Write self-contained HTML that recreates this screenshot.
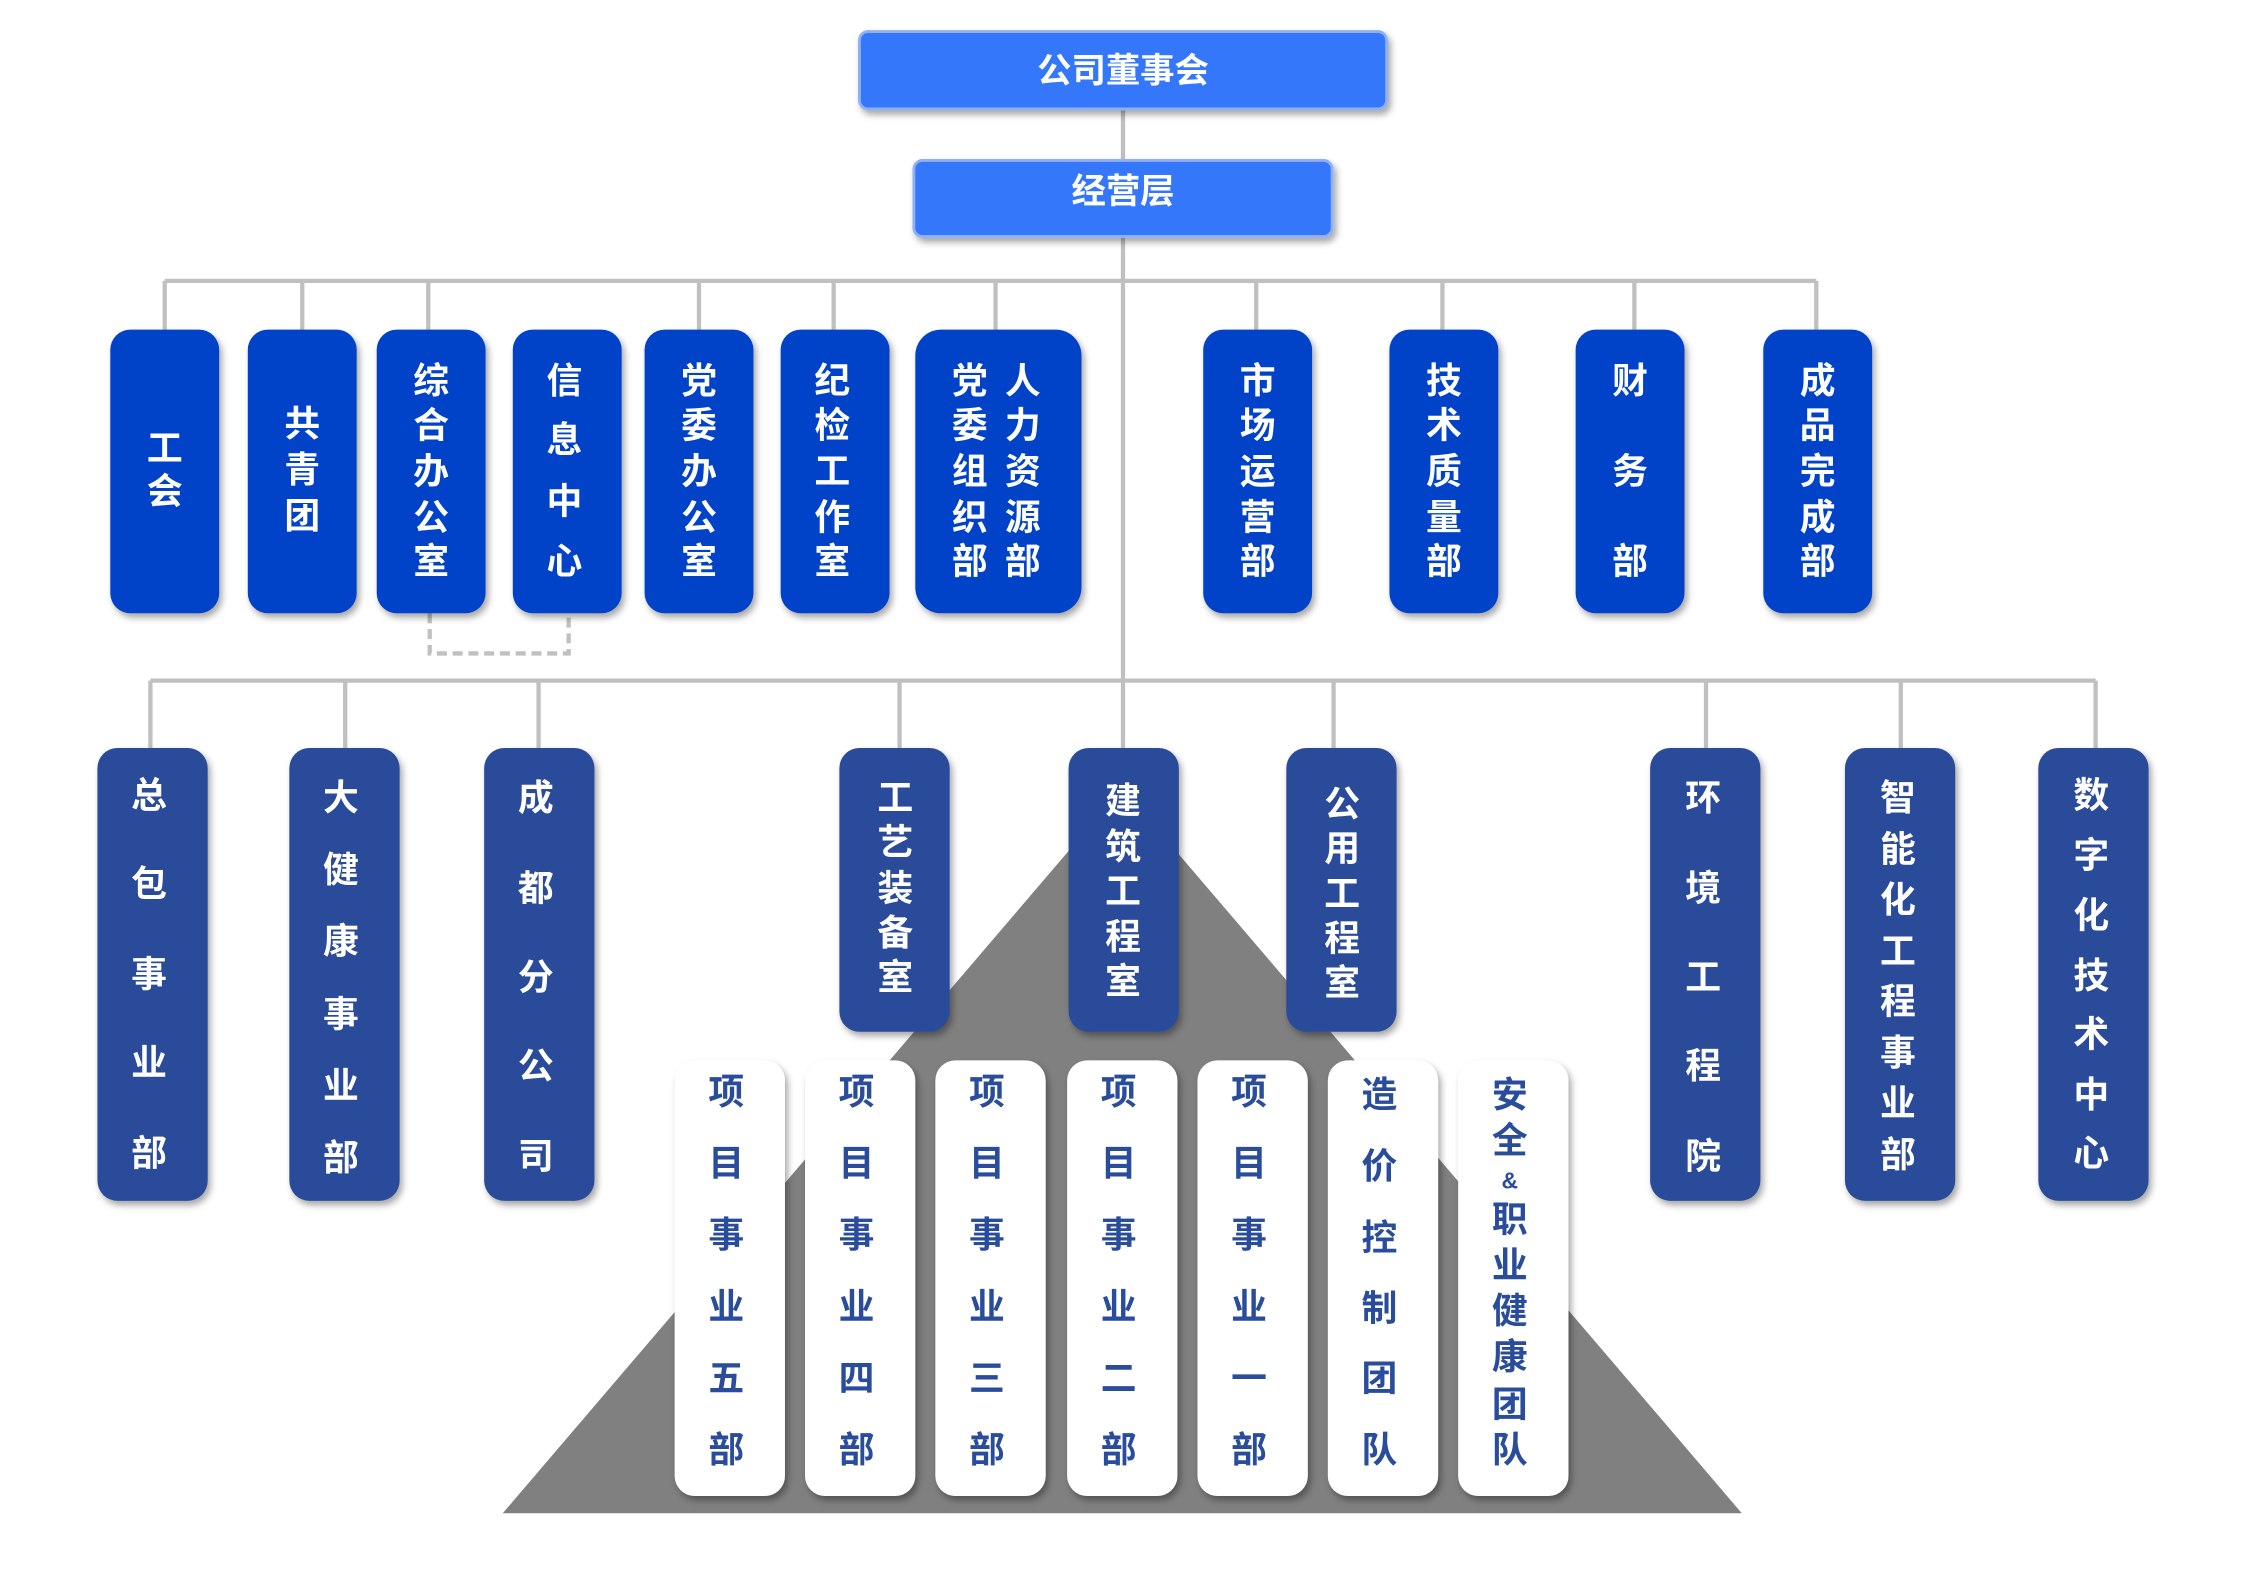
<!DOCTYPE html>
<html><head><meta charset="utf-8"><style>
html,body{margin:0;padding:0;background:#fff;}
svg{display:block;}
text{font-family:"Liberation Sans","Noto Sans CJK SC",sans-serif;font-weight:bold;text-anchor:middle;dominant-baseline:central;}
.w{fill:#fff;font-size:25px;}
.b{fill:#2a4d9b;font-size:25px;}
</style></head><body>
<svg width="2245" height="1588" viewBox="0 0 1567.3 1108.2" preserveAspectRatio="none" xmlns="http://www.w3.org/2000/svg">
<defs>
<filter id="sh" x="-20%" y="-20%" width="140%" height="140%"><feDropShadow dx="2" dy="3" stdDeviation="2.5" flood-color="#000" flood-opacity="0.35"/></filter>
</defs>
<polygon points="351,1056 783.5,550 1216,1056" fill="#808080"/>
<g stroke="#c0c0c0" stroke-width="3" fill="none">
<line x1="784" y1="76" x2="784" y2="522"/>
<line x1="115" y1="196" x2="1268" y2="196"/>
<line x1="115" y1="196" x2="115" y2="230"/><line x1="211" y1="196" x2="211" y2="230"/><line x1="299" y1="196" x2="299" y2="230"/><line x1="488" y1="196" x2="488" y2="230"/><line x1="582" y1="196" x2="582" y2="230"/><line x1="695" y1="196" x2="695" y2="230"/><line x1="877" y1="196" x2="877" y2="230"/><line x1="1007" y1="196" x2="1007" y2="230"/><line x1="1141" y1="196" x2="1141" y2="230"/><line x1="1268" y1="196" x2="1268" y2="230"/>
<line x1="105" y1="475" x2="1463" y2="475"/>
<line x1="105" y1="475" x2="105" y2="522"/><line x1="241" y1="475" x2="241" y2="522"/><line x1="376" y1="475" x2="376" y2="522"/><line x1="628" y1="475" x2="628" y2="522"/><line x1="931" y1="475" x2="931" y2="522"/><line x1="1191" y1="475" x2="1191" y2="522"/><line x1="1327" y1="475" x2="1327" y2="522"/><line x1="1463" y1="475" x2="1463" y2="522"/>
<polyline points="300,428 300,456 397,456 397,430" stroke-dasharray="7,4"/>
</g>
<rect x="600" y="22" width="368" height="54" rx="6" fill="#3477fb" stroke="#8fb0f5" stroke-width="2" filter="url(#sh)"/>
<text class="w" x="784" y="50" style="font-size:24px">公司董事会</text>
<rect x="638" y="112" width="292" height="53" rx="6" fill="#3477fb" stroke="#8fb0f5" stroke-width="2" filter="url(#sh)"/>
<text class="w" x="784" y="134" style="font-size:24px">经营层</text>
<g fill="#0042c8" filter="url(#sh)">
<rect x="77" y="230" width="76" height="198" rx="14"/><rect x="173" y="230" width="76" height="198" rx="14"/><rect x="263" y="230" width="76" height="198" rx="14"/><rect x="358" y="230" width="76" height="198" rx="14"/><rect x="450" y="230" width="76" height="198" rx="14"/><rect x="545" y="230" width="76" height="198" rx="14"/><rect x="639" y="230" width="116" height="198" rx="18"/><rect x="840" y="230" width="76" height="198" rx="14"/><rect x="970" y="230" width="76" height="198" rx="14"/><rect x="1100" y="230" width="76" height="198" rx="14"/><rect x="1231" y="230" width="76" height="198" rx="14"/>
</g>
<text class="w" x="115" y="313">工</text><text class="w" x="115" y="343">会</text>
<text class="w" x="211" y="296">共</text><text class="w" x="211" y="328">青</text><text class="w" x="211" y="360">团</text>
<text class="w" x="301" y="266">综</text><text class="w" x="301" y="297">合</text><text class="w" x="301" y="329">办</text><text class="w" x="301" y="361">公</text><text class="w" x="301" y="392">室</text>
<text class="w" x="394" y="266">信</text><text class="w" x="394" y="307">息</text><text class="w" x="394" y="350">中</text><text class="w" x="394" y="392">心</text>
<text class="w" x="488" y="266">党</text><text class="w" x="488" y="297">委</text><text class="w" x="488" y="329">办</text><text class="w" x="488" y="361">公</text><text class="w" x="488" y="392">室</text>
<text class="w" x="581" y="266">纪</text><text class="w" x="581" y="297">检</text><text class="w" x="581" y="329">工</text><text class="w" x="581" y="361">作</text><text class="w" x="581" y="392">室</text>
<text class="w" x="677" y="266">党</text><text class="w" x="677" y="297">委</text><text class="w" x="677" y="329">组</text><text class="w" x="677" y="361">织</text><text class="w" x="677" y="392">部</text>
<text class="w" x="714" y="266">人</text><text class="w" x="714" y="297">力</text><text class="w" x="714" y="329">资</text><text class="w" x="714" y="361">源</text><text class="w" x="714" y="392">部</text>
<text class="w" x="878" y="266">市</text><text class="w" x="878" y="297">场</text><text class="w" x="878" y="329">运</text><text class="w" x="878" y="361">营</text><text class="w" x="878" y="392">部</text>
<text class="w" x="1008" y="266">技</text><text class="w" x="1008" y="297">术</text><text class="w" x="1008" y="329">质</text><text class="w" x="1008" y="361">量</text><text class="w" x="1008" y="392">部</text>
<text class="w" x="1138" y="266">财</text><text class="w" x="1138" y="329">务</text><text class="w" x="1138" y="392">部</text>
<text class="w" x="1269" y="266">成</text><text class="w" x="1269" y="297">品</text><text class="w" x="1269" y="329">完</text><text class="w" x="1269" y="361">成</text><text class="w" x="1269" y="392">部</text>
<g fill="#294c99" filter="url(#sh)">
<rect x="68" y="522" width="77" height="316" rx="14"/><rect x="202" y="522" width="77" height="316" rx="14"/><rect x="338" y="522" width="77" height="316" rx="14"/>
<rect x="586" y="522" width="77" height="198" rx="14"/><rect x="746" y="522" width="77" height="198" rx="14"/><rect x="898" y="522" width="77" height="198" rx="14"/>
<rect x="1152" y="522" width="77" height="316" rx="14"/><rect x="1288" y="522" width="77" height="316" rx="14"/><rect x="1423" y="522" width="77" height="316" rx="14"/>
</g>
<text class="w" x="104" y="555">总</text><text class="w" x="104" y="617">包</text><text class="w" x="104" y="680">事</text><text class="w" x="104" y="742">业</text><text class="w" x="104" y="805">部</text>
<text class="w" x="238" y="557">大</text><text class="w" x="238" y="607">健</text><text class="w" x="238" y="657">康</text><text class="w" x="238" y="708">事</text><text class="w" x="238" y="758">业</text><text class="w" x="238" y="808">部</text>
<text class="w" x="374" y="557">成</text><text class="w" x="374" y="620">都</text><text class="w" x="374" y="682">分</text><text class="w" x="374" y="744">公</text><text class="w" x="374" y="807">司</text>
<text class="w" x="625" y="557">工</text><text class="w" x="625" y="588">艺</text><text class="w" x="625" y="620">装</text><text class="w" x="625" y="651">备</text><text class="w" x="625" y="682">室</text>
<text class="w" x="784" y="559">建</text><text class="w" x="784" y="591">筑</text><text class="w" x="784" y="622">工</text><text class="w" x="784" y="654">程</text><text class="w" x="784" y="685">室</text>
<text class="w" x="937" y="561">公</text><text class="w" x="937" y="592">用</text><text class="w" x="937" y="624">工</text><text class="w" x="937" y="655">程</text><text class="w" x="937" y="686">室</text>
<text class="w" x="1189" y="557">环</text><text class="w" x="1189" y="620">境</text><text class="w" x="1189" y="682">工</text><text class="w" x="1189" y="744">程</text><text class="w" x="1189" y="807">院</text>
<text class="w" x="1325" y="557">智</text><text class="w" x="1325" y="593">能</text><text class="w" x="1325" y="628">化</text><text class="w" x="1325" y="664">工</text><text class="w" x="1325" y="699">程</text><text class="w" x="1325" y="735">事</text><text class="w" x="1325" y="770">业</text><text class="w" x="1325" y="806">部</text>
<text class="w" x="1460" y="555">数</text><text class="w" x="1460" y="597">字</text><text class="w" x="1460" y="639">化</text><text class="w" x="1460" y="681">技</text><text class="w" x="1460" y="722">术</text><text class="w" x="1460" y="764">中</text><text class="w" x="1460" y="805">心</text>
<g fill="#fff" filter="url(#sh)">
<rect x="471" y="740" width="77" height="304" rx="14"/><rect x="562" y="740" width="77" height="304" rx="14"/><rect x="653" y="740" width="77" height="304" rx="14"/><rect x="745" y="740" width="77" height="304" rx="14"/><rect x="836" y="740" width="77" height="304" rx="14"/><rect x="927" y="740" width="77" height="304" rx="14"/><rect x="1018" y="740" width="77" height="304" rx="14"/>
</g>
<text class="b" x="507" y="762">项</text><text class="b" x="507" y="812">目</text><text class="b" x="507" y="862">事</text><text class="b" x="507" y="912">业</text><text class="b" x="507" y="962">五</text><text class="b" x="507" y="1012">部</text>
<text class="b" x="598" y="762">项</text><text class="b" x="598" y="812">目</text><text class="b" x="598" y="862">事</text><text class="b" x="598" y="912">业</text><text class="b" x="598" y="962">四</text><text class="b" x="598" y="1012">部</text>
<text class="b" x="689" y="762">项</text><text class="b" x="689" y="812">目</text><text class="b" x="689" y="862">事</text><text class="b" x="689" y="912">业</text><text class="b" x="689" y="962">三</text><text class="b" x="689" y="1012">部</text>
<text class="b" x="781" y="762">项</text><text class="b" x="781" y="812">目</text><text class="b" x="781" y="862">事</text><text class="b" x="781" y="912">业</text><text class="b" x="781" y="962">二</text><text class="b" x="781" y="1012">部</text>
<text class="b" x="872" y="762">项</text><text class="b" x="872" y="812">目</text><text class="b" x="872" y="862">事</text><text class="b" x="872" y="912">业</text><text class="b" x="872" y="962">一</text><text class="b" x="872" y="1012">部</text>
<text class="b" x="963" y="764">造</text><text class="b" x="963" y="814">价</text><text class="b" x="963" y="864">控</text><text class="b" x="963" y="913">制</text><text class="b" x="963" y="962">团</text><text class="b" x="963" y="1012">队</text>
<text class="b" x="1054" y="764">安</text><text class="b" x="1054" y="796">全</text><text class="b" x="1054" y="824" style="font-size:16px">&amp;</text><text class="b" x="1054" y="851">职</text><text class="b" x="1054" y="883">业</text><text class="b" x="1054" y="915">健</text><text class="b" x="1054" y="947">康</text><text class="b" x="1054" y="980">团</text><text class="b" x="1054" y="1012">队</text>
</svg>
</body></html>
